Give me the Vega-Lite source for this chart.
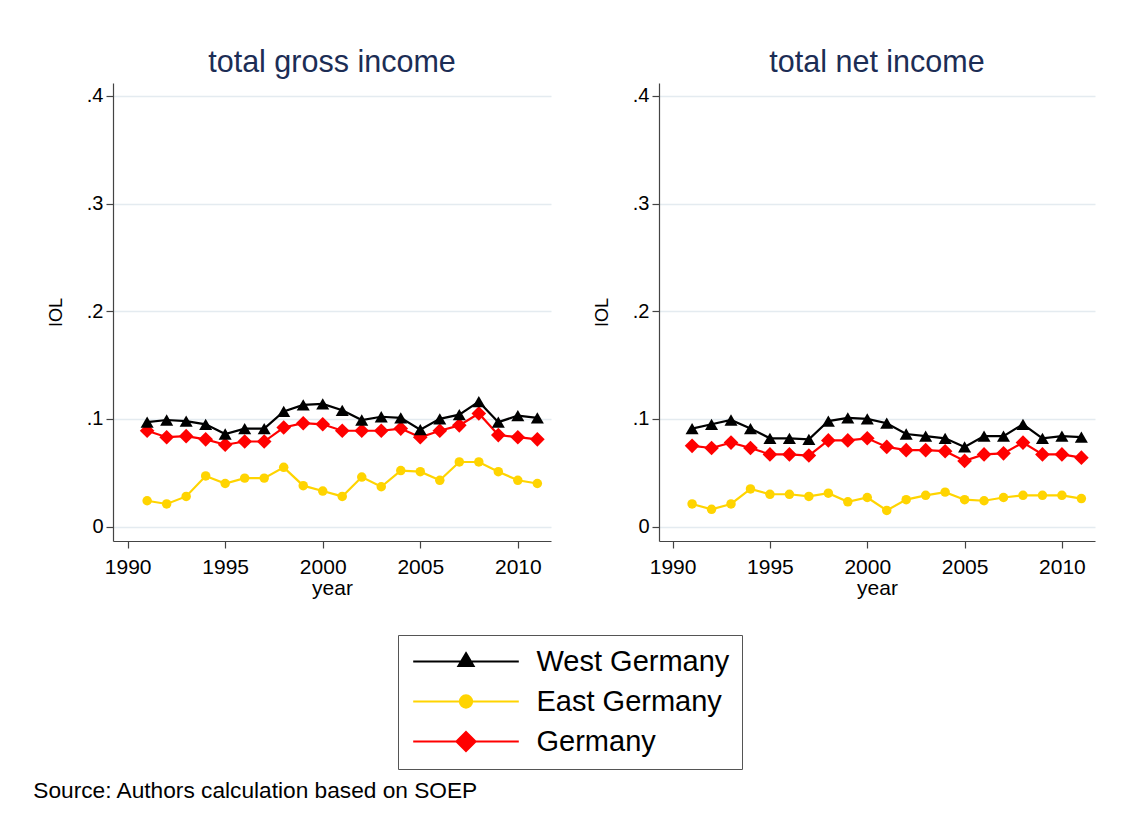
{
  "$schema": "https://vega.github.io/schema/vega-lite/v6.json",
  "background": "white",
  "padding": {"left": 33, "top": 47, "right": 5, "bottom": 5},
  "title": {"text": "Source: Authors calculation based on SOEP", "orient": "bottom", "anchor": "start", "offset": 10, "dx": -14, "fontSize": 22.7, "fontWeight": "normal", "color": "#000000", "font": "Liberation Sans"},
  "datasets": {
    "iol": [
      {"panel": "gross", "year": 1991, "series": "West Germany", "value": 0.097},
      {"panel": "gross", "year": 1992, "series": "West Germany", "value": 0.099},
      {"panel": "gross", "year": 1993, "series": "West Germany", "value": 0.098},
      {"panel": "gross", "year": 1994, "series": "West Germany", "value": 0.095},
      {"panel": "gross", "year": 1995, "series": "West Germany", "value": 0.086},
      {"panel": "gross", "year": 1996, "series": "West Germany", "value": 0.091},
      {"panel": "gross", "year": 1997, "series": "West Germany", "value": 0.091},
      {"panel": "gross", "year": 1998, "series": "West Germany", "value": 0.107},
      {"panel": "gross", "year": 1999, "series": "West Germany", "value": 0.113},
      {"panel": "gross", "year": 2000, "series": "West Germany", "value": 0.114},
      {"panel": "gross", "year": 2001, "series": "West Germany", "value": 0.108},
      {"panel": "gross", "year": 2002, "series": "West Germany", "value": 0.099},
      {"panel": "gross", "year": 2003, "series": "West Germany", "value": 0.102},
      {"panel": "gross", "year": 2004, "series": "West Germany", "value": 0.101},
      {"panel": "gross", "year": 2005, "series": "West Germany", "value": 0.090},
      {"panel": "gross", "year": 2006, "series": "West Germany", "value": 0.100},
      {"panel": "gross", "year": 2007, "series": "West Germany", "value": 0.104},
      {"panel": "gross", "year": 2008, "series": "West Germany", "value": 0.116},
      {"panel": "gross", "year": 2009, "series": "West Germany", "value": 0.097},
      {"panel": "gross", "year": 2010, "series": "West Germany", "value": 0.103},
      {"panel": "gross", "year": 2011, "series": "West Germany", "value": 0.101},
      {"panel": "gross", "year": 1991, "series": "East Germany", "value": 0.024},
      {"panel": "gross", "year": 1992, "series": "East Germany", "value": 0.021},
      {"panel": "gross", "year": 1993, "series": "East Germany", "value": 0.028},
      {"panel": "gross", "year": 1994, "series": "East Germany", "value": 0.047},
      {"panel": "gross", "year": 1995, "series": "East Germany", "value": 0.040},
      {"panel": "gross", "year": 1996, "series": "East Germany", "value": 0.045},
      {"panel": "gross", "year": 1997, "series": "East Germany", "value": 0.045},
      {"panel": "gross", "year": 1998, "series": "East Germany", "value": 0.055},
      {"panel": "gross", "year": 1999, "series": "East Germany", "value": 0.038},
      {"panel": "gross", "year": 2000, "series": "East Germany", "value": 0.033},
      {"panel": "gross", "year": 2001, "series": "East Germany", "value": 0.028},
      {"panel": "gross", "year": 2002, "series": "East Germany", "value": 0.046},
      {"panel": "gross", "year": 2003, "series": "East Germany", "value": 0.037},
      {"panel": "gross", "year": 2004, "series": "East Germany", "value": 0.052},
      {"panel": "gross", "year": 2005, "series": "East Germany", "value": 0.051},
      {"panel": "gross", "year": 2006, "series": "East Germany", "value": 0.043},
      {"panel": "gross", "year": 2007, "series": "East Germany", "value": 0.060},
      {"panel": "gross", "year": 2008, "series": "East Germany", "value": 0.060},
      {"panel": "gross", "year": 2009, "series": "East Germany", "value": 0.051},
      {"panel": "gross", "year": 2010, "series": "East Germany", "value": 0.043},
      {"panel": "gross", "year": 2011, "series": "East Germany", "value": 0.040},
      {"panel": "gross", "year": 1991, "series": "Germany", "value": 0.089},
      {"panel": "gross", "year": 1992, "series": "Germany", "value": 0.083},
      {"panel": "gross", "year": 1993, "series": "Germany", "value": 0.084},
      {"panel": "gross", "year": 1994, "series": "Germany", "value": 0.081},
      {"panel": "gross", "year": 1995, "series": "Germany", "value": 0.076},
      {"panel": "gross", "year": 1996, "series": "Germany", "value": 0.079},
      {"panel": "gross", "year": 1997, "series": "Germany", "value": 0.079},
      {"panel": "gross", "year": 1998, "series": "Germany", "value": 0.092},
      {"panel": "gross", "year": 1999, "series": "Germany", "value": 0.096},
      {"panel": "gross", "year": 2000, "series": "Germany", "value": 0.095},
      {"panel": "gross", "year": 2001, "series": "Germany", "value": 0.089},
      {"panel": "gross", "year": 2002, "series": "Germany", "value": 0.089},
      {"panel": "gross", "year": 2003, "series": "Germany", "value": 0.089},
      {"panel": "gross", "year": 2004, "series": "Germany", "value": 0.091},
      {"panel": "gross", "year": 2005, "series": "Germany", "value": 0.083},
      {"panel": "gross", "year": 2006, "series": "Germany", "value": 0.089},
      {"panel": "gross", "year": 2007, "series": "Germany", "value": 0.094},
      {"panel": "gross", "year": 2008, "series": "Germany", "value": 0.105},
      {"panel": "gross", "year": 2009, "series": "Germany", "value": 0.085},
      {"panel": "gross", "year": 2010, "series": "Germany", "value": 0.083},
      {"panel": "gross", "year": 2011, "series": "Germany", "value": 0.081},
      {"panel": "net", "year": 1991, "series": "West Germany", "value": 0.091},
      {"panel": "net", "year": 1992, "series": "West Germany", "value": 0.095},
      {"panel": "net", "year": 1993, "series": "West Germany", "value": 0.099},
      {"panel": "net", "year": 1994, "series": "West Germany", "value": 0.091},
      {"panel": "net", "year": 1995, "series": "West Germany", "value": 0.082},
      {"panel": "net", "year": 1996, "series": "West Germany", "value": 0.082},
      {"panel": "net", "year": 1997, "series": "West Germany", "value": 0.081},
      {"panel": "net", "year": 1998, "series": "West Germany", "value": 0.098},
      {"panel": "net", "year": 1999, "series": "West Germany", "value": 0.101},
      {"panel": "net", "year": 2000, "series": "West Germany", "value": 0.100},
      {"panel": "net", "year": 2001, "series": "West Germany", "value": 0.096},
      {"panel": "net", "year": 2002, "series": "West Germany", "value": 0.086},
      {"panel": "net", "year": 2003, "series": "West Germany", "value": 0.084},
      {"panel": "net", "year": 2004, "series": "West Germany", "value": 0.082},
      {"panel": "net", "year": 2005, "series": "West Germany", "value": 0.074},
      {"panel": "net", "year": 2006, "series": "West Germany", "value": 0.084},
      {"panel": "net", "year": 2007, "series": "West Germany", "value": 0.084},
      {"panel": "net", "year": 2008, "series": "West Germany", "value": 0.095},
      {"panel": "net", "year": 2009, "series": "West Germany", "value": 0.082},
      {"panel": "net", "year": 2010, "series": "West Germany", "value": 0.084},
      {"panel": "net", "year": 2011, "series": "West Germany", "value": 0.083},
      {"panel": "net", "year": 1991, "series": "East Germany", "value": 0.021},
      {"panel": "net", "year": 1992, "series": "East Germany", "value": 0.016},
      {"panel": "net", "year": 1993, "series": "East Germany", "value": 0.021},
      {"panel": "net", "year": 1994, "series": "East Germany", "value": 0.035},
      {"panel": "net", "year": 1995, "series": "East Germany", "value": 0.030},
      {"panel": "net", "year": 1996, "series": "East Germany", "value": 0.030},
      {"panel": "net", "year": 1997, "series": "East Germany", "value": 0.028},
      {"panel": "net", "year": 1998, "series": "East Germany", "value": 0.031},
      {"panel": "net", "year": 1999, "series": "East Germany", "value": 0.023},
      {"panel": "net", "year": 2000, "series": "East Germany", "value": 0.027},
      {"panel": "net", "year": 2001, "series": "East Germany", "value": 0.015},
      {"panel": "net", "year": 2002, "series": "East Germany", "value": 0.025},
      {"panel": "net", "year": 2003, "series": "East Germany", "value": 0.029},
      {"panel": "net", "year": 2004, "series": "East Germany", "value": 0.032},
      {"panel": "net", "year": 2005, "series": "East Germany", "value": 0.025},
      {"panel": "net", "year": 2006, "series": "East Germany", "value": 0.024},
      {"panel": "net", "year": 2007, "series": "East Germany", "value": 0.027},
      {"panel": "net", "year": 2008, "series": "East Germany", "value": 0.029},
      {"panel": "net", "year": 2009, "series": "East Germany", "value": 0.029},
      {"panel": "net", "year": 2010, "series": "East Germany", "value": 0.029},
      {"panel": "net", "year": 2011, "series": "East Germany", "value": 0.026},
      {"panel": "net", "year": 1991, "series": "Germany", "value": 0.075},
      {"panel": "net", "year": 1992, "series": "Germany", "value": 0.073},
      {"panel": "net", "year": 1993, "series": "Germany", "value": 0.078},
      {"panel": "net", "year": 1994, "series": "Germany", "value": 0.073},
      {"panel": "net", "year": 1995, "series": "Germany", "value": 0.067},
      {"panel": "net", "year": 1996, "series": "Germany", "value": 0.067},
      {"panel": "net", "year": 1997, "series": "Germany", "value": 0.066},
      {"panel": "net", "year": 1998, "series": "Germany", "value": 0.080},
      {"panel": "net", "year": 1999, "series": "Germany", "value": 0.080},
      {"panel": "net", "year": 2000, "series": "Germany", "value": 0.082},
      {"panel": "net", "year": 2001, "series": "Germany", "value": 0.074},
      {"panel": "net", "year": 2002, "series": "Germany", "value": 0.071},
      {"panel": "net", "year": 2003, "series": "Germany", "value": 0.071},
      {"panel": "net", "year": 2004, "series": "Germany", "value": 0.070},
      {"panel": "net", "year": 2005, "series": "Germany", "value": 0.061},
      {"panel": "net", "year": 2006, "series": "Germany", "value": 0.067},
      {"panel": "net", "year": 2007, "series": "Germany", "value": 0.068},
      {"panel": "net", "year": 2008, "series": "Germany", "value": 0.078},
      {"panel": "net", "year": 2009, "series": "Germany", "value": 0.067},
      {"panel": "net", "year": 2010, "series": "Germany", "value": 0.067},
      {"panel": "net", "year": 2011, "series": "Germany", "value": 0.064}
    ]
  },
  "data": {"name": "iol"},
  "spacing": 42,
  "hconcat": [
    {
      "width": 438,
      "height": 458,
      "title": {"text": "total gross income"},
      "transform": [{"filter": "datum.panel === 'gross'"}],
      "encoding": {
        "x": {"field": "year", "type": "quantitative", "scale": {"domain": [1989.25, 2011.7], "nice": false, "zero": false}, "axis": {"values": [1990, 1995, 2000, 2005, 2010], "format": "d", "title": "year"}},
        "y": {"field": "value", "type": "quantitative", "scale": {"domain": [-0.0134, 0.412], "nice": false, "zero": false}, "axis": {"values": [0, 0.1, 0.2, 0.3, 0.4], "labelExpr": "datum.value == 0 ? '0' : replace(format(datum.value, '.1f'), '0.', '.')", "title": "IOL"}}
      },
      "layer": [
        {
          "mark": {"type": "line", "strokeWidth": 2.2},
          "encoding": {
            "color": {
              "field": "series", "type": "nominal",
              "scale": {"domain": ["West Germany", "East Germany", "Germany"], "range": ["#000000", "#FFD400", "#FF0000"]},
              "legend": {
                "orient": "none", "legendX": 285, "legendY": 552, "title": null,
                "strokeColor": "#555555", "fillColor": "#ffffff", "padding": 12,
                "labelFontSize": 29, "labelFont": "Liberation Sans", "labelColor": "#000000", "labelLimit": 400,
                "symbolSize": 256, "symbolStrokeWidth": 2, "symbolOffset": 41.5, "labelOffset": 56, "rowPadding": 10,
                "encode": {
                  "symbols": {
                    "update": {
                      "shape": {"signal": "datum.value === 'West Germany' ? 'M-6.6,0L6.6,0M0,-1.05L0.95,0.55L-0.95,0.55Z' : datum.value === 'East Germany' ? 'M-6.6,0L6.6,0M-0.77,0A0.77,0.77,0,1,0,0.77,0A0.77,0.77,0,1,0,-0.77,0Z' : 'M-6.6,0L6.6,0M0,-1.2L1.2,0L0,1.2L-1.2,0Z'"},
                      "fill": {"signal": "scale('color', datum.value)"},
                      "stroke": {"signal": "scale('color', datum.value)"},
                      "strokeWidth": {"value": 2},
                      "opacity": {"value": 1}
                    }
                  }
                }
              }
            }
          }
        },
        {
          "transform": [{"filter": "datum.series === 'East Germany'"}],
          "mark": {"type": "point", "filled": true, "opacity": 1, "shape": "circle", "size": 90},
          "encoding": {"color": {"field": "series", "type": "nominal"}}
        },
        {
          "transform": [{"filter": "datum.series === 'Germany'"}],
          "mark": {"type": "point", "filled": true, "opacity": 1, "shape": "diamond", "size": 215},
          "encoding": {"color": {"field": "series", "type": "nominal"}}
        },
        {
          "transform": [{"filter": "datum.series === 'West Germany'"}],
          "mark": {"type": "point", "filled": true, "opacity": 1, "shape": "triangle-up", "size": 170},
          "encoding": {"color": {"field": "series", "type": "nominal"}}
        }
      ]
    },
    {
      "width": 436,
      "height": 458,
      "title": {"text": "total net income"},
      "transform": [{"filter": "datum.panel === 'net'"}],
      "encoding": {
        "x": {"field": "year", "type": "quantitative", "scale": {"domain": [1989.3, 2011.7], "nice": false, "zero": false}, "axis": {"values": [1990, 1995, 2000, 2005, 2010], "format": "d", "title": "year"}},
        "y": {"field": "value", "type": "quantitative", "scale": {"domain": [-0.0134, 0.412], "nice": false, "zero": false}, "axis": {"values": [0, 0.1, 0.2, 0.3, 0.4], "labelExpr": "datum.value == 0 ? '0' : replace(format(datum.value, '.1f'), '0.', '.')", "title": "IOL"}}
      },
      "layer": [
        {
          "mark": {"type": "line", "strokeWidth": 2.2},
          "encoding": {"color": {"field": "series", "type": "nominal"}}
        },
        {
          "transform": [{"filter": "datum.series === 'East Germany'"}],
          "mark": {"type": "point", "filled": true, "opacity": 1, "shape": "circle", "size": 90},
          "encoding": {"color": {"field": "series", "type": "nominal"}}
        },
        {
          "transform": [{"filter": "datum.series === 'Germany'"}],
          "mark": {"type": "point", "filled": true, "opacity": 1, "shape": "diamond", "size": 215},
          "encoding": {"color": {"field": "series", "type": "nominal"}}
        },
        {
          "transform": [{"filter": "datum.series === 'West Germany'"}],
          "mark": {"type": "point", "filled": true, "opacity": 1, "shape": "triangle-up", "size": 170},
          "encoding": {"color": {"field": "series", "type": "nominal"}}
        }
      ]
    }
  ],
  "config": {
    "font": "Liberation Sans",
    "view": {"stroke": null},
    "title": {"fontSize": 30.5, "fontWeight": "normal", "color": "#1c2d55", "font": "Liberation Sans", "offset": 5},
    "axis": {
      "domainColor": "#444444", "domainWidth": 1.2, "tickColor": "#444444", "tickSize": 7, "tickWidth": 1.2,
      "labelColor": "#000000", "labelFont": "Liberation Sans", "titleFont": "Liberation Sans",
      "titleColor": "#000000", "titleFontWeight": "normal"
    },
    "axisY": {"labelFontSize": 20, "labelPadding": 3, "titleFontSize": 18, "titlePadding": 21, "gridColor": "#e4ebf0", "gridWidth": 1.5, "labelBaseline": "middle"},
    "axisX": {"grid": false, "labelFontSize": 21, "labelPadding": 8, "titleFontSize": 21, "titlePadding": 0, "labelFlush": false}
  }
}
